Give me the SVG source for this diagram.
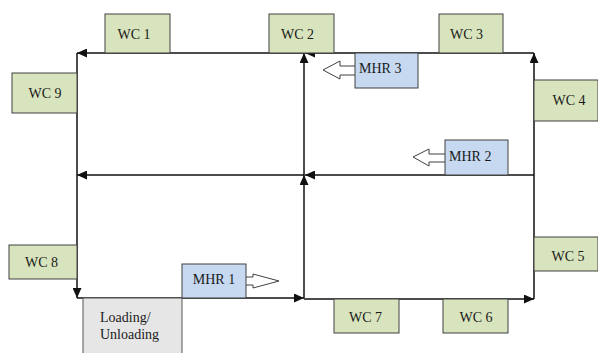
<svg xmlns="http://www.w3.org/2000/svg" width="598" height="353" viewBox="0 0 598 353">
  <style>
    .path { fill: none; stroke: #111; stroke-width: 1.5; marker-end: url(#head); }
    .wc rect { fill: #d8e4bd; stroke: #404040; stroke-width: 1; }
    .mhr rect, .mhr polygon { fill: #c6d9f1; stroke: #404040; stroke-width: 1; }
    .mhr polygon { fill: #ffffff; }
    .dock rect { fill: #e6e6e6; stroke: #555; stroke-width: 1; }
    text { font-family: "Liberation Serif", "Times New Roman", serif; font-size: 14px; fill: #1a1a1a; }
    .c { text-anchor: middle; }
  </style>
  <defs>
    <marker id="head" markerUnits="userSpaceOnUse" markerWidth="10" markerHeight="9" refX="10" refY="4.5" orient="auto">
      <path d="M0,0 L10,4.5 L0,9 z" fill="#111"/>
    </marker>
  </defs>

  <rect width="598" height="353" fill="#ffffff"/>

  <!-- aisle loop and cross aisles -->
  <g id="connectors">
    <path class="path" d="M534,53 L305,53"/>
    <path class="path" d="M304,53 L77,53"/>
    <path class="path" d="M77,53 L77,298"/>
    <path class="path" d="M77,298 L304,298"/>
    <path class="path" d="M304,299 L534,299"/>
    <path class="path" d="M534,299 L534,53"/>
    <path class="path" d="M304,298 L304,175"/>
    <path class="path" d="M304,175 L304,53"/>
    <path class="path" d="M534,175 L305,175"/>
    <path class="path" d="M304,175 L77,175"/>
  </g>

  <!-- work centres -->
  <g id="wc1" class="wc"><rect x="105" y="14" width="65" height="39"/><text class="c" x="134" y="38.5">WC 1</text></g>
  <g id="wc2" class="wc"><rect x="269" y="14" width="65" height="39"/><text class="c" x="297.5" y="38.5">WC 2</text></g>
  <g id="wc3" class="wc"><rect x="439" y="14" width="64" height="39"/><text class="c" x="466.5" y="38.5">WC 3</text></g>
  <g id="wc4" class="wc"><rect x="534" y="80" width="64" height="41"/><text class="c" x="569" y="104.5">WC 4</text></g>
  <g id="wc5" class="wc"><rect x="534" y="237" width="64" height="34"/><text class="c" x="568" y="261">WC 5</text></g>
  <g id="wc6" class="wc"><rect x="443" y="299" width="65" height="34"/><text class="c" x="476" y="322">WC 6</text></g>
  <g id="wc7" class="wc"><rect x="334" y="299" width="65" height="34"/><text class="c" x="365.5" y="322">WC 7</text></g>
  <g id="wc8" class="wc"><rect x="9" y="245" width="68" height="34"/><text class="c" x="41.5" y="267">WC 8</text></g>
  <g id="wc9" class="wc"><rect x="12" y="73" width="65" height="40"/><text class="c" x="45" y="97.5">WC 9</text></g>

  <!-- material handling robots -->
  <g id="mhr3" class="mhr">
    <polygon points="356,66 340,66 340,61 323,70 340,79 340,75 356,75"/>
    <rect x="355" y="53" width="63" height="35"/>
    <text x="359" y="73">MHR 3</text>
  </g>
  <g id="mhr2" class="mhr">
    <polygon points="446,154 429,154 429,149 413,157 429,166 429,162 446,162"/>
    <rect x="445" y="140" width="63" height="35"/>
    <text x="449" y="160.5">MHR 2</text>
  </g>
  <g id="mhr1" class="mhr">
    <polygon points="245,277 253,277 253,274 279,281 253,288 253,285 245,285"/>
    <rect x="182" y="264" width="64" height="34"/>
    <text class="c" x="214" y="283.5">MHR 1</text>
  </g>

  <!-- loading / unloading station -->
  <g id="dock" class="dock">
    <rect x="83" y="298" width="99" height="60"/>
    <text x="100" y="322">Loading/</text>
    <text x="100" y="338.5">Unloading</text>
  </g>
</svg>
